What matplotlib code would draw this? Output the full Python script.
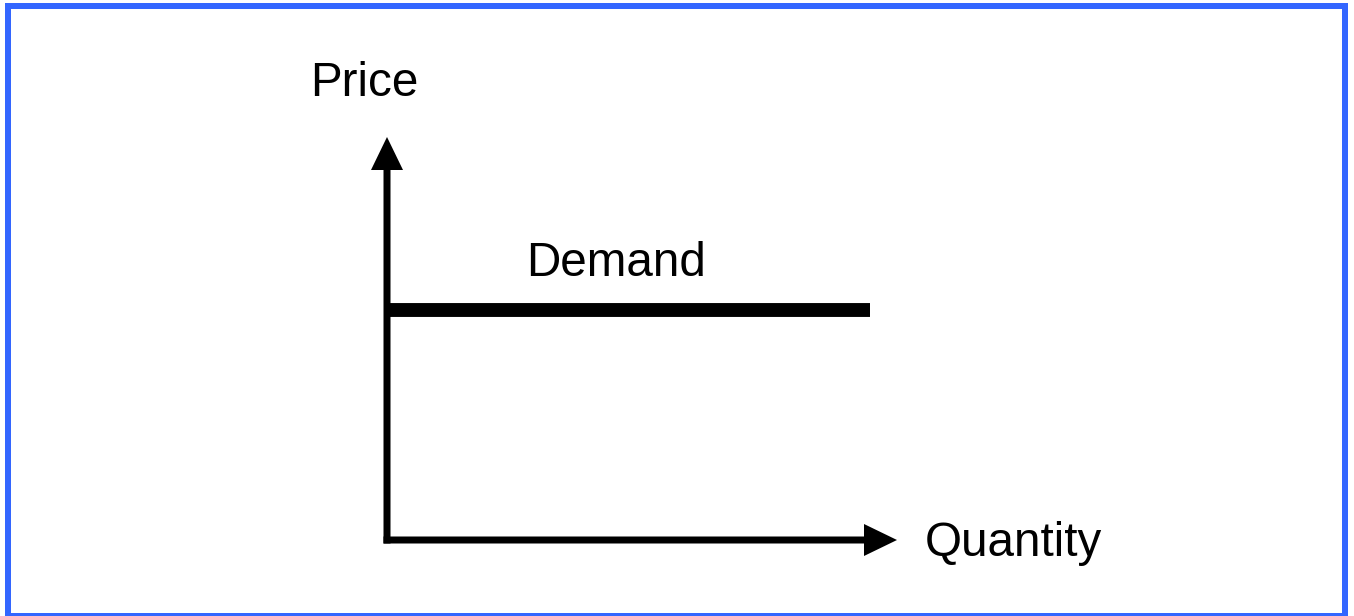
import matplotlib
matplotlib.use("Agg")
import matplotlib.pyplot as plt
from matplotlib.patches import Rectangle

plt.rcParams['font.family'] = ['Liberation Sans', 'DejaVu Sans']

# ---- data (abstract units; 1 unit = 50 px) ----
axis_labels = ["Price", "Quantity"]
curve_label = "Demand"
quantity_axis_end = 10.2     # tip of quantity arrow
price_axis_end = 8.06        # tip of price arrow
demand_quantity = [0.0, 9.66]
demand_price = [4.6, 4.6]

W, H, DPI = 1354, 616, 100
fig = plt.figure(figsize=(W / DPI, H / DPI), dpi=DPI)
ax = fig.add_axes([0, 0, 1, 1])
ax.set_xlim(-387 / 50, (W - 387) / 50)
ax.set_ylim(-76 / 50, (H - 76) / 50)
ax.axis('off')

shaft = 0.14
head_w = 0.64
head_l = 0.66

# Price axis (vertical arrow)
ax.arrow(0, -shaft / 2, 0, price_axis_end + shaft / 2, width=shaft,
         head_width=head_w, head_length=head_l, length_includes_head=True,
         color='black', linewidth=0)
# Quantity axis (horizontal arrow)
ax.arrow(-shaft / 2, 0, quantity_axis_end + shaft / 2, 0, width=shaft,
         head_width=head_w, head_length=head_l, length_includes_head=True,
         color='black', linewidth=0)

# Demand curve (perfectly elastic)
ax.plot(demand_quantity, demand_price, color='black', linewidth=10,
        solid_capstyle='butt')

fs = 34.3
ax.text(-1.53, 8.88, axis_labels[0], fontsize=fs, ha='left', va='baseline')
ax.text(10.76, -0.32, axis_labels[1], fontsize=fs, ha='left', va='baseline')
ax.text(2.78, 5.28, curve_label, fontsize=fs, ha='left', va='baseline')

# Blue frame around the figure
lw_px = 6
left, top, right, bottom = 8, 6, 1345, 615.5
rect = Rectangle((left / W, (H - bottom) / H), (right - left) / W,
                 (bottom - top) / H, transform=fig.transFigure,
                 fill=False, edgecolor='#3366FF', linewidth=lw_px * 72 / DPI,
                 joinstyle='miter')
fig.add_artist(rect)

fig.savefig("out.png", dpi=DPI)
